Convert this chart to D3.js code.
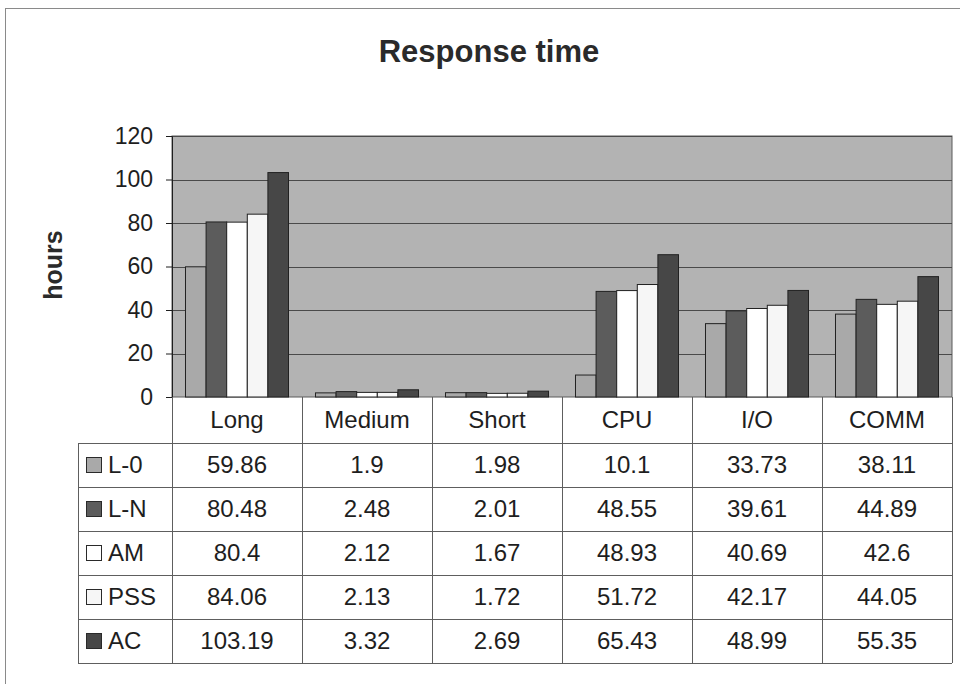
<!DOCTYPE html>
<html>
<head>
<meta charset="utf-8">
<script src="https://cdn.jsdelivr.net/npm/d3@7"></script>
<style>
  html, body { margin: 0; padding: 0; background: #ffffff; }
  svg { display: block; font-family: "Liberation Sans", Arial, Helvetica, sans-serif; }
</style>
</head>
<body>
<svg id="chart" width="960" height="684"></svg>
<script>
// Response time per job class, one series per scheduling policy
const categories = ["Long", "Medium", "Short", "CPU", "I/O", "COMM"];
const seriesNames = ["L-0", "L-N", "AM", "PSS", "AC"];
const valuesL0  = [59.86, 1.9, 1.98, 10.1, 33.73, 38.11];
const valuesLN  = [80.48, 2.48, 2.01, 48.55, 39.61, 44.89];
const valuesAM  = [80.4, 2.12, 1.67, 48.93, 40.69, 42.6];
const valuesPSS = [84.06, 2.13, 1.72, 51.72, 42.17, 44.05];
const valuesAC  = [103.19, 3.32, 2.69, 65.43, 48.99, 55.35];
const yTicks = [0, 20, 40, 60, 80, 100, 120];

const seriesValues = [valuesL0, valuesLN, valuesAM, valuesPSS, valuesAC];
const series = seriesNames.map((name, i) => ({ name, values: seriesValues[i] }));

const fills = { "L-0": "#a9a9a9", "L-N": "#5c5c5c", "AM": "#ffffff", "PSS": "#f6f6f6", "AC": "#474747" };

const svg = d3.select("#chart");
const ink = "#1e1e1e";

// Outer chart-area frame (top and left edges visible)
svg.append("rect")
  .attr("x", 5.5).attr("y", 8.5).attr("width", 970).attr("height", 700)
  .attr("fill", "none").attr("stroke", "#8a8a8a").attr("stroke-width", 1);

// Title
svg.append("text")
  .attr("x", 489).attr("y", 62)
  .attr("text-anchor", "middle")
  .attr("font-size", 31).attr("font-weight", "bold")
  .attr("fill", "#2a2a2a")
  .text("Response time");

// Plot geometry
const plotLeft = 172, plotRight = 952, plotTop = 136, plotBottom = 397;

const x = d3.scaleBand().domain(categories).range([plotLeft, plotRight]).padding(0);
const xInner = d3.scaleBand().domain(seriesNames).range([0, x.bandwidth()])
  .paddingInner(0).paddingOuter(0.655);
const y = d3.scaleLinear().domain([0, 120]).range([plotBottom, plotTop]);

// Plot background
svg.append("rect")
  .attr("x", plotLeft).attr("y", plotTop)
  .attr("width", plotRight - plotLeft).attr("height", plotBottom - plotTop)
  .attr("fill", "#b3b3b3").attr("stroke", "#5a5a5a").attr("stroke-width", 1);

// Gridlines
svg.append("g")
  .selectAll("line")
  .data(yTicks.filter(t => t > 0))
  .join("line")
  .attr("x1", plotLeft).attr("x2", plotRight)
  .attr("y1", d => Math.round(y(d)) + 0.5).attr("y2", d => Math.round(y(d)) + 0.5)
  .attr("stroke", "#4a4a4a").attr("stroke-width", 1);

// Bars
const groups = svg.append("g")
  .selectAll("g")
  .data(categories)
  .join("g")
  .attr("transform", d => `translate(${x(d)},0)`);

groups.selectAll("rect")
  .data((c, ci) => series.map(s => ({ name: s.name, value: s.values[ci] })))
  .join("rect")
  .attr("x", d => xInner(d.name))
  .attr("y", d => y(d.value))
  .attr("width", xInner.bandwidth())
  .attr("height", d => plotBottom - y(d.value))
  .attr("fill", d => fills[d.name])
  .attr("stroke", "#222222").attr("stroke-width", 1);

// Y axis
const yAxis = d3.axisLeft(y).tickValues(yTicks).tickSize(6).tickPadding(13);
const yAxisG = svg.append("g")
  .attr("transform", `translate(${plotLeft},0)`)
  .call(yAxis);
yAxisG.select(".domain").attr("stroke", ink);
yAxisG.selectAll(".tick line").attr("stroke", ink);
yAxisG.selectAll(".tick text")
  .attr("font-size", 23).attr("fill", ink)
  .attr("font-family", "'Liberation Sans', Arial, sans-serif");

// Y axis title
svg.append("text")
  .attr("transform", "translate(62,265) rotate(-90)")
  .attr("text-anchor", "middle")
  .attr("font-size", 25).attr("font-weight", "bold")
  .attr("fill", "#2a2a2a")
  .text("hours");

// Data table below the plot
const headerTop = plotBottom, headerBottom = 443, rowH = 44;
const tableLeft = 78;
const tableBottom = headerBottom + rowH * series.length;
const lineColor = "#5e5e5e";
const table = svg.append("g");

// Header column separators
table.selectAll("line.hsep")
  .data(categories.concat(["end"]))
  .join("line")
  .attr("class", "hsep")
  .attr("x1", (d, i) => plotLeft + i * x.bandwidth() + 0.5)
  .attr("x2", (d, i) => plotLeft + i * x.bandwidth() + 0.5)
  .attr("y1", headerTop).attr("y2", tableBottom)
  .attr("stroke", lineColor).attr("stroke-width", 1);

// Row lines
table.selectAll("line.rsep")
  .data(d3.range(series.length + 1))
  .join("line")
  .attr("class", "rsep")
  .attr("x1", tableLeft).attr("x2", plotRight)
  .attr("y1", i => headerBottom + i * rowH + 0.5)
  .attr("y2", i => headerBottom + i * rowH + 0.5)
  .attr("stroke", lineColor).attr("stroke-width", 1);

// Left edge of legend column
table.append("line")
  .attr("x1", tableLeft + 0.5).attr("x2", tableLeft + 0.5)
  .attr("y1", headerBottom).attr("y2", tableBottom)
  .attr("stroke", lineColor).attr("stroke-width", 1);

// Category labels
table.selectAll("text.cat")
  .data(categories)
  .join("text")
  .attr("class", "cat")
  .attr("x", d => x(d) + x.bandwidth() / 2)
  .attr("y", (headerTop + headerBottom) / 2)
  .attr("dy", "0.35em")
  .attr("text-anchor", "middle")
  .attr("font-size", 24).attr("fill", ink)
  .text(d => d);

// Series rows: legend key, name, values
const rows = table.selectAll("g.row")
  .data(series)
  .join("g")
  .attr("class", "row")
  .attr("transform", (d, i) => `translate(0,${headerBottom + i * rowH})`);

rows.append("rect")
  .attr("x", 86.5).attr("y", rowH / 2 - 7.5)
  .attr("width", 15).attr("height", 15)
  .attr("fill", d => fills[d.name])
  .attr("stroke", "#2a2a2a").attr("stroke-width", 1);

rows.append("text")
  .attr("x", 108).attr("y", rowH / 2)
  .attr("dy", "0.35em")
  .attr("font-size", 24).attr("fill", ink)
  .text(d => d.name);

rows.selectAll("text.val")
  .data(d => d.values.map((v, ci) => ({ v, c: categories[ci] })))
  .join("text")
  .attr("class", "val")
  .attr("x", d => x(d.c) + x.bandwidth() / 2)
  .attr("y", rowH / 2)
  .attr("dy", "0.35em")
  .attr("text-anchor", "middle")
  .attr("font-size", 24).attr("fill", ink)
  .text(d => String(d.v));
</script>
</body>
</html>
